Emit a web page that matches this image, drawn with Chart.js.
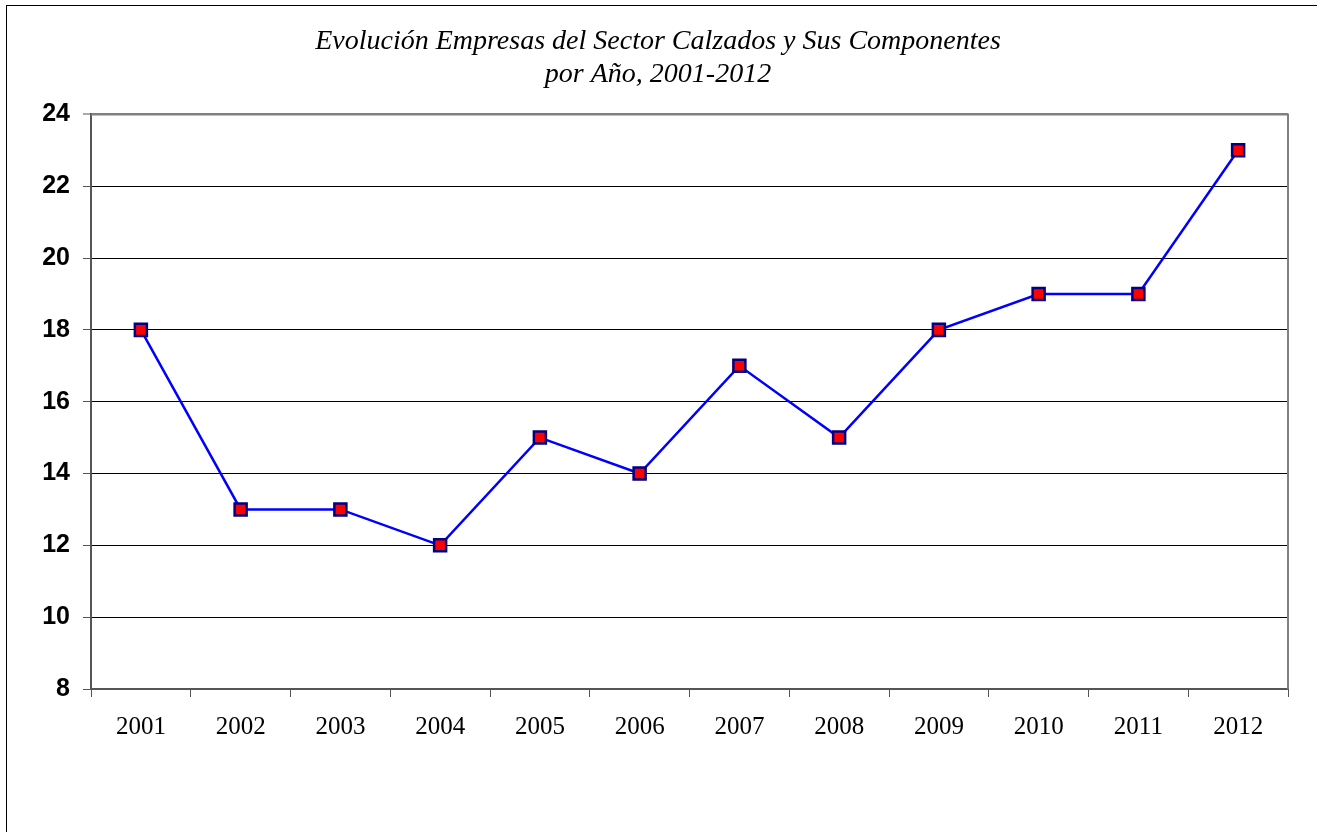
<!DOCTYPE html>
<html lang="es">
<head>
<meta charset="UTF-8">
<title>Evolución Empresas del Sector Calzados</title>
<script src="https://cdn.jsdelivr.net/npm/chart.js"></script>
<style>
  html, body { margin: 0; padding: 0; background: #fff; overflow: hidden; }
  #frame { position: absolute; left: 6px; top: 5px; width: 1400px; height: 900px;
           border-left: 1px solid #000; border-top: 1px solid #000; }
  #wrap { position: absolute; left: 0; top: 0; width: 1317px; height: 832px; }
</style>
</head>
<body>
<div id="frame"></div>
<div id="wrap"><canvas id="chart" width="1317" height="832"></canvas></div>
<script>
const years = ['2001', '2002', '2003', '2004', '2005', '2006', '2007', '2008', '2009', '2010', '2011', '2012'];
const empresas = [18, 13, 13, 12, 15, 14, 17, 15, 18, 19, 19, 23];
const titleLines = ['Evolución Empresas del Sector Calzados y Sus Componentes', 'por Año, 2001-2012'];
const yMin = 8, yMax = 24, yStep = 2;

// gray frame on top and right of the plot area
const plotFrame = {
  id: 'plotFrame',
  afterDatasetsDraw(chart) {
    const { ctx, chartArea: a } = chart;
    ctx.save();
    ctx.strokeStyle = '#808080';
    ctx.lineWidth = 2;
    ctx.beginPath();
    ctx.moveTo(a.left, a.top);
    ctx.lineTo(a.right, a.top);
    ctx.lineTo(a.right, a.bottom);
    ctx.stroke();
    ctx.restore();
  }
};

const ctx = document.getElementById('chart').getContext('2d');
new Chart(ctx, {
  type: 'line',
  data: {
    labels: years,
    datasets: [{
      label: 'Empresas',
      data: empresas,
      borderColor: '#0000ff',
      borderWidth: 2.5,
      tension: 0,
      fill: false,
      pointStyle: 'rect',
      pointRadius: 8.5,
      pointHoverRadius: 8.5,
      pointBackgroundColor: '#ff0000',
      pointBorderColor: '#000080',
      pointBorderWidth: 2.5
    }]
  },
  plugins: [plotFrame],
  options: {
    responsive: false,
    animation: false,
    events: [],
    layout: { padding: { left: 28, right: 29, top: 22, bottom: 80 } },
    plugins: {
      legend: { display: false },
      tooltip: { enabled: false },
      title: {
        display: true,
        text: titleLines,
        color: '#000',
        font: { family: "'Liberation Serif', 'Times New Roman', serif", size: 28, style: 'italic', weight: 'normal', lineHeight: 1.15 },
        padding: { top: 4, bottom: 24 }
      }
    },
    scales: {
      x: {
        offset: true,
        afterFit(axis) { axis.height = 63; },
        grid: { display: true, drawOnChartArea: false, drawTicks: true, offset: true,
                tickLength: 8, tickColor: '#555', tickWidth: 1 },
        border: { display: true, color: '#555', width: 2 },
        ticks: { color: '#000', padding: 15, maxRotation: 0,
                 font: { family: "'Liberation Serif', 'Times New Roman', serif", size: 25 } }
      },
      y: {
        min: yMin,
        max: yMax,
        afterFit(axis) { axis.width = 63; },
        grid: {
          color: c => c.tick && c.tick.value === yMax ? '#808080' : '#000',
          lineWidth: c => c.tick && c.tick.value === yMax ? 2 : 1,
          tickLength: 8, tickColor: '#555', tickWidth: 1
        },
        border: { display: true, color: '#555', width: 2 },
        ticks: { stepSize: yStep, color: '#000', padding: 13,
                 font: { family: "'Liberation Sans', Arial, sans-serif", size: 25, weight: 'bold' } }
      }
    }
  }
});
</script>
</body>
</html>
